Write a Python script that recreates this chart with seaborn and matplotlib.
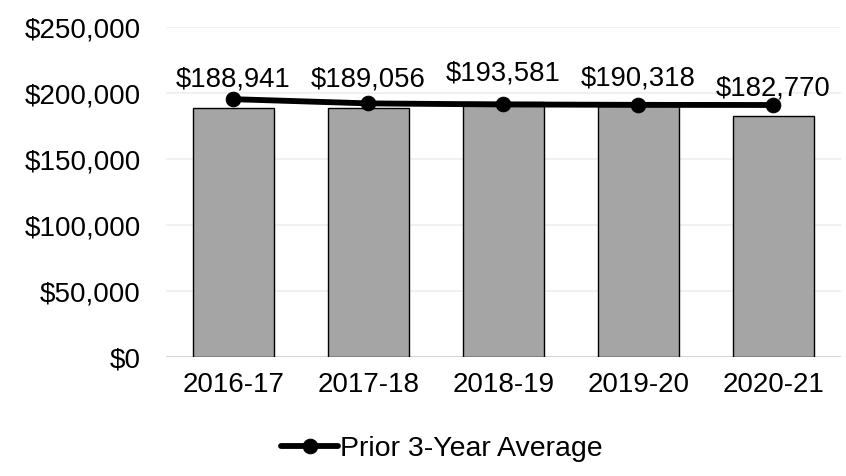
import matplotlib
matplotlib.use("Agg")
import matplotlib.pyplot as plt
import seaborn as sns
from matplotlib.ticker import FuncFormatter

# Data
years = ["2016-17", "2017-18", "2018-19", "2019-20", "2020-21"]
amounts = [188941, 189056, 193581, 190318, 182770]
prior_avg = [195400, 192200, 191400, 191100, 190985]

sns.set_theme(style="white")
plt.rcParams["font.family"] = ["Liberation Sans", "DejaVu Sans"]
plt.rcParams["text.color"] = "black"

fig = plt.figure(figsize=(8.46, 4.76), dpi=100)
ax = fig.add_axes([0.196, 0.25, 0.798, 0.693])

sns.barplot(x=years, y=amounts, color="#a5a5a5", edgecolor="black",
            linewidth=1.0, width=0.6, saturation=1, ax=ax, zorder=2)
sns.lineplot(x=years, y=prior_avg, color="black", linewidth=4.2, marker="o",
             markersize=10.5, markeredgecolor="black", label="Prior 3-Year Average",
             ax=ax, zorder=3, sort=False)

for i, v in enumerate(amounts):
    ax.annotate(f"${v:,}", (i, v), xytext=(0, 20), textcoords="offset points",
                ha="center", va="center", fontsize=19.8, color="black", zorder=4)

ax.set_ylim(0, 250000)
ax.set_xlim(-0.5, 4.5)
ax.set_yticks(range(0, 250001, 50000))
ax.yaxis.set_major_formatter(FuncFormatter(lambda v, p: f"${int(v):,}"))
ax.grid(axis="y", color="#eeeeee", linewidth=1.2, zorder=0)
ax.axhline(0, color="#d4d4d4", linewidth=1.5, zorder=1)
for s in ax.spines.values():
    s.set_visible(False)
ax.tick_params(axis="y", length=0, pad=18, labelsize=20, colors="black")
ax.tick_params(axis="x", length=0, pad=11, labelsize=20, colors="black")
ax.set_xlabel("")
ax.set_ylabel("")

leg = ax.legend(loc="center", bbox_to_anchor=(0.409, -0.28), frameon=False,
                fontsize=20.5, handlelength=2.0, handletextpad=0.05)
for t in leg.get_texts():
    t.set_color("black")

fig.savefig("out.png", dpi=100)
